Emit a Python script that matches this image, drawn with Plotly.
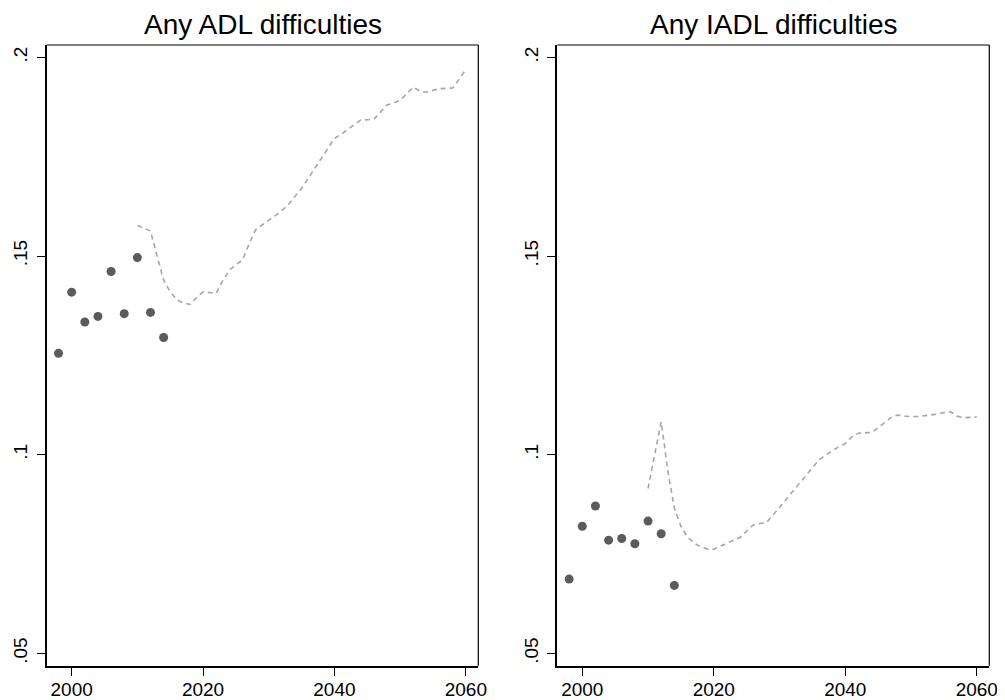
import plotly.graph_objects as go

# ---- data ----
obs_years = [1998, 2000, 2002, 2004, 2006, 2008, 2010, 2012, 2014]
adl_obs = [0.1255, 0.1409, 0.1334, 0.1348, 0.1461, 0.1355, 0.1496, 0.1358, 0.1295]
iadl_obs = [0.0687, 0.0820, 0.0871, 0.0785, 0.0789, 0.0776, 0.0833, 0.0801, 0.0671]

sim_years = list(range(2010, 2061))
adl_sim = [0.1577, 0.1570, 0.1563, 0.1500, 0.1439, 0.1410, 0.1390, 0.1382, 0.1378, 0.1395,
           0.1410, 0.1408, 0.1406, 0.1438, 0.1464, 0.1478, 0.1490, 0.1530, 0.1566, 0.1578,
           0.1590, 0.1600, 0.1614, 0.1630, 0.1650, 0.1670, 0.1695, 0.1720, 0.1746, 0.1772,
           0.1796, 0.1806, 0.1818, 0.1830, 0.1842, 0.1843, 0.1844, 0.1862, 0.1880, 0.1885,
           0.1892, 0.1908, 0.1925, 0.1915, 0.1912, 0.1917, 0.1921, 0.1922, 0.1923, 0.1945,
           0.1969]
iadl_sim = [0.0915, 0.0999, 0.1083, 0.0960, 0.0865, 0.0820, 0.0793, 0.0778, 0.0768, 0.0763,
            0.0762, 0.0770, 0.0777, 0.0784, 0.0792, 0.0808, 0.0823, 0.0827, 0.0829, 0.0848,
            0.0868, 0.0890, 0.0910, 0.0929, 0.0948, 0.0968, 0.0987, 0.0999, 0.1010, 0.1020,
            0.1028, 0.1045, 0.1054, 0.1055, 0.1056, 0.1068, 0.1082, 0.1094, 0.1100, 0.1097,
            0.1096, 0.1096, 0.1098, 0.1100, 0.1102, 0.1106, 0.1108, 0.1097, 0.1093, 0.1094,
            0.1095]

titles = ["Any ADL difficulties", "Any IADL difficulties"]
x_ticks = [2000, 2020, 2040, 2060]
y_ticks = [0.05, 0.1, 0.15, 0.2]
y_ticktext = [".05", ".1", ".15", ".2"]

# ---- style ----
OFF = 8  # default page body margin
W, H = 1005 - OFF, 700 - OFF
FONT = "Liberation Sans, Arial, sans-serif"
dot_color = "#5b5b5b"
line_color = "#a6a6a6"


def px_x(v):
    return (v - OFF) / W


def px_y(v):
    return 1 - (v - OFF) / H


x_domains = [[px_x(46.7), px_x(478.3)], [px_x(557.3), px_x(989.3)]]
y_domain = [px_y(665.7), px_y(45.0)]
x_range = [1996.2, 2061.9]
y_range = [0.0469, 0.2031]

fig = go.Figure()
panels = [(adl_obs, adl_sim), (iadl_obs, iadl_sim)]
for i, (obs, sim) in enumerate(panels):
    xa = "x" if i == 0 else "x2"
    ya = "y" if i == 0 else "y2"
    fig.add_trace(go.Scatter(x=sim_years, y=sim, mode="lines", xaxis=xa, yaxis=ya,
                             line=dict(color=line_color, width=1.6, dash="5px,4px"),
                             showlegend=False, hoverinfo="skip"))
    fig.add_trace(go.Scatter(x=obs_years, y=obs, mode="markers", xaxis=xa, yaxis=ya,
                             marker=dict(color=dot_color, size=9, line=dict(width=0)),
                             showlegend=False))

axis_common = dict(showgrid=False, zeroline=False, showline=True, linecolor="black",
                   linewidth=2, ticks="outside", ticklen=8, tickwidth=1.3, tickcolor="black",
                   tickfont=dict(family=FONT, size=19, color="black"), automargin=False)

layout = dict(width=W, height=H, margin=dict(l=0, r=0, t=0, b=0),
              paper_bgcolor="white", plot_bgcolor="white", showlegend=False)
for i in range(2):
    sx = "xaxis" if i == 0 else "xaxis2"
    sy = "yaxis" if i == 0 else "yaxis2"
    layout[sx] = dict(axis_common, domain=x_domains[i], range=x_range,
                      tickvals=x_ticks, ticklabelstandoff=-3,
                      anchor="y" if i == 0 else "y2")
    layout[sy] = dict(axis_common, domain=y_domain, range=y_range,
                      tickvals=y_ticks, ticktext=y_ticktext, tickangle=-90,
                      ticklabelstandoff=2, anchor="x" if i == 0 else "x2")
fig.update_layout(**layout)

shapes = []
annotations = []
for i in range(2):
    x0, x1 = x_domains[i]
    y0, y1 = y_domain
    shapes.append(dict(type="line", xref="paper", yref="paper", x0=x0, x1=x1, y0=y1, y1=y1,
                       line=dict(color="black", width=1.2)))
    shapes.append(dict(type="line", xref="paper", yref="paper", x0=x1, x1=x1, y0=y0, y1=y1,
                       line=dict(color="black", width=1.2)))
    annotations.append(dict(text=titles[i], xref="paper", yref="paper",
                            x=(x0 + x1) / 2, y=px_y(25), xanchor="center", yanchor="middle",
                            showarrow=False, font=dict(family=FONT, size=28, color="black")))
fig.update_layout(shapes=shapes, annotations=annotations)

fig.write_html("out.html")
